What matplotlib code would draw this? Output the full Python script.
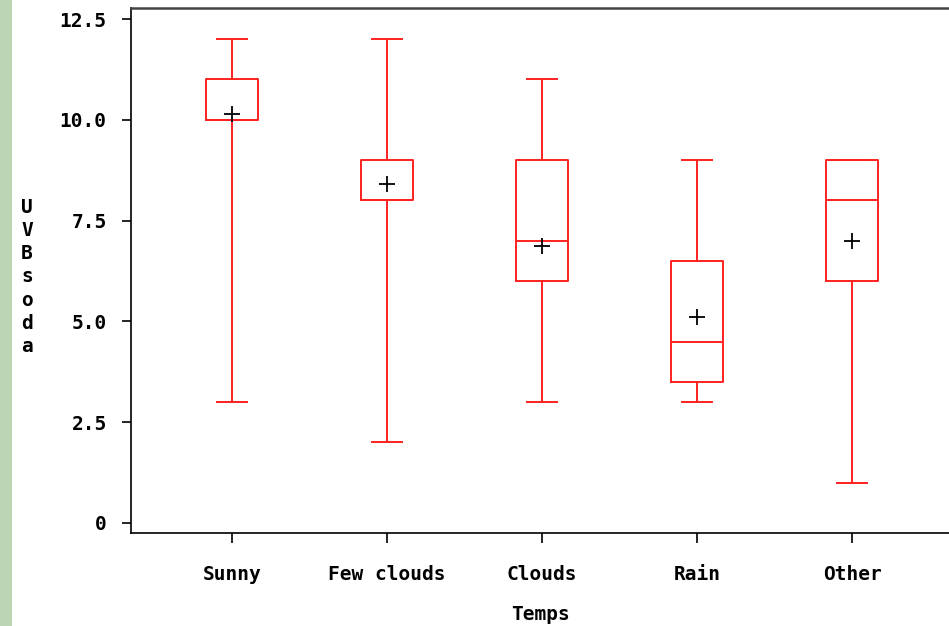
import matplotlib
matplotlib.use('Agg')
import matplotlib.pyplot as plt
from matplotlib.patches import Rectangle

# %% Data
categories = ['Sunny', 'Few clouds', 'Clouds', 'Rain', 'Other']
whislo = [3.0, 2.0, 3.0, 3.0, 1.0]
q1 = [10.0, 8.0, 6.0, 3.5, 6.0]
med = [10.0, 8.0, 7.0, 4.5, 8.0]
q3 = [11.0, 9.0, 9.0, 6.5, 9.0]
whishi = [12.0, 12.0, 11.0, 9.0, 9.0]
means = [10.15, 8.42, 6.87, 5.12, 7.0]

yticks = [0, 2.5, 5.0, 7.5, 10.0, 12.5]
ytick_labels = ['0', '2.5', '5.0', '7.5', '10.0', '12.5']

# %% Style
params = {'font.family': 'DejaVu Sans Mono',
          'font.weight': 'bold',
          'axes.labelweight': 'bold',
          'font.size': 14}
plt.rcParams.update(params)

W, H = 949, 626
fig = plt.figure(figsize=(W / 100, H / 100), dpi=100)
fig.patch.set_facecolor('white')

# green textured strip on the left edge
fig.patches.append(Rectangle((0, 0), 12 / W, 1, transform=fig.transFigure,
                             facecolor='#bcd5b3', edgecolor='none', zorder=0))

ax = fig.add_axes([131 / W, (H - 533) / H, (W - 131) / W, (533 - 8) / H])

stats = []
for i, c in enumerate(categories):
    stats.append({'label': c, 'whislo': whislo[i], 'q1': q1[i], 'med': med[i],
                  'q3': q3[i], 'whishi': whishi[i], 'mean': means[i], 'fliers': []})

red = dict(color='#ff2020', linewidth=1.4)
ax.bxp(stats, positions=range(1, 6), widths=0.33, showmeans=True,
       boxprops=red, whiskerprops=red, capprops=red, medianprops=red,
       meanprops=dict(marker='+', markeredgecolor='black', markersize=12,
                      markeredgewidth=1.3),
       capwidths=0.19)

ax.set_xlim(1 - 101 / 155, 1 + (W - 232) / 155)
ax.set_ylim(-10 / 40.32, 12.5 + 11 / 40.32)
ax.set_yticks(yticks)
ax.set_yticklabels(ytick_labels)
ax.set_xticks(range(1, 6))
ax.set_xticklabels(categories)
ax.tick_params(axis='y', length=6.5, width=1.2, pad=11)
ax.tick_params(axis='x', length=7, width=1.2, pad=16)

ax.spines['right'].set_visible(False)
ax.spines['top'].set_color('#444444')
ax.spines['top'].set_linewidth(1.8)
ax.spines['left'].set_linewidth(1.2)
ax.spines['bottom'].set_linewidth(1.2)

ax.set_xlabel('Temps', va='center')
ax.xaxis.set_label_coords((540 - 131) / (W - 131), -(614 - 533) / (533 - 8))
ax.set_ylabel('U\nV\nB\ns\no\nd\na', rotation=0, va='center', ha='center',
              linespacing=1.27)
ax.yaxis.set_label_coords(-(131 - 27) / (W - 131), (533 - 277) / (533 - 8))

fig.savefig('out.png', dpi=100)
